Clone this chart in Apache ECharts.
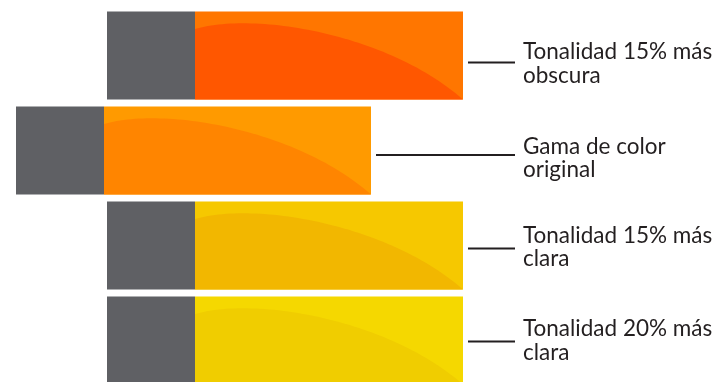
<!DOCTYPE html>
<html>
<head>
<meta charset="utf-8">
<script src="https://cdn.jsdelivr.net/npm/echarts@6/dist/echarts.min.js"></script>
<style>
html,body{margin:0;padding:0;background:#fff;}
#c{width:718px;height:382px;}
</style>
</head>
<body>
<div id="c"></div>
<script>
// ---- data ----
const categories = ['Tonalidad 15% más\nobscura', 'Gama de color\noriginal', 'Tonalidad 15% más\nclara', 'Tonalidad 20% más\nclara'];
const offsetValues = [107, 16, 107, 107];
const grayValues = [88, 88, 88, 88];
const colorValues = [268, 267, 268, 268];
const lightColors = ['#ff7600', '#ff9a00', '#f6c800', '#f5d800'];
const darkColors = ['#ff5700', '#ff8500', '#f2b700', '#f0cd00'];

// ---- layout / style ----
const GRAY = '#5f6064';
const TEXT = '#231f20';
const LABEL_X = 523, LEADER_END = 515, LEADER_GAP = 5;
const textShift = [8, 7.5, 1.5, 0];
const leaderShift = [7, 4.5, 3, 1];
const BAR_RATIO = 88 / 95;

function bez(p0, p1, p2, p3, t) {
  const u = 1 - t;
  return u*u*u*p0 + 3*u*u*t*p1 + 3*u*t*t*p2 + t*t*t*p3;
}

const rows = categories.map((c, i) => [i, offsetValues[i], grayValues[i], colorValues[i]]);

const chart = echarts.init(document.getElementById('c'), null, {renderer: 'canvas'});
chart.setOption({
  animation: false,
  grid: {left: 0, width: 718, top: 8, height: 380, outerBoundsMode: 'none', containLabel: false},
  xAxis: {type: 'value', min: 0, max: 718, show: false},
  yAxis: {type: 'category', data: categories, inverse: true, show: false},
  series: [{
    type: 'custom',
    data: rows,
    encode: {x: [1, 2, 3], y: 0},
    clip: false,
    renderItem: function (params, api) {
      const i = api.value(0);
      const s = api.value(1), g = api.value(2), c = api.value(3);
      const a = api.coord([s, i]);
      const b = api.coord([s + g, i]);
      const e = api.coord([s + g + c, i]);
      const h = api.size([0, 1])[1] * BAR_RATIO;
      const top = a[1] - h / 2;
      const w = e[0] - b[0];
      const pts = [];
      const N = 60;
      for (let k = 0; k <= N; k++) {
        const t = k / N;
        pts.push([
          bez(b[0], b[0] + 0.22 * w, b[0] + 0.72 * w, e[0], t),
          bez(top + 0.2 * h, top, top + 0.25 * h, top + h, t)
        ]);
      }
      pts.push([b[0], top + h]);
      const ly = a[1] + leaderShift[i];
      const ty = a[1] + textShift[i];
      return {
        type: 'group',
        children: [
          {type: 'rect', shape: {x: a[0], y: top, width: b[0] - a[0], height: h}, style: {fill: GRAY}},
          {type: 'rect', shape: {x: b[0], y: top, width: w, height: h}, style: {fill: lightColors[i]}},
          {type: 'polygon', shape: {points: pts}, style: {fill: darkColors[i]}},
          {type: 'line', shape: {x1: e[0] + LEADER_GAP, y1: ly, x2: LEADER_END, y2: ly}, style: {stroke: TEXT, lineWidth: 2}},
          {type: 'text', x: LABEL_X, y: ty, style: {
            text: categories[i], fill: TEXT, font: '22.5px Lato', lineHeight: 23.5,
            align: 'left', verticalAlign: 'middle'
          }}
        ]
      };
    }
  }]
});
</script>
</body>
</html>
